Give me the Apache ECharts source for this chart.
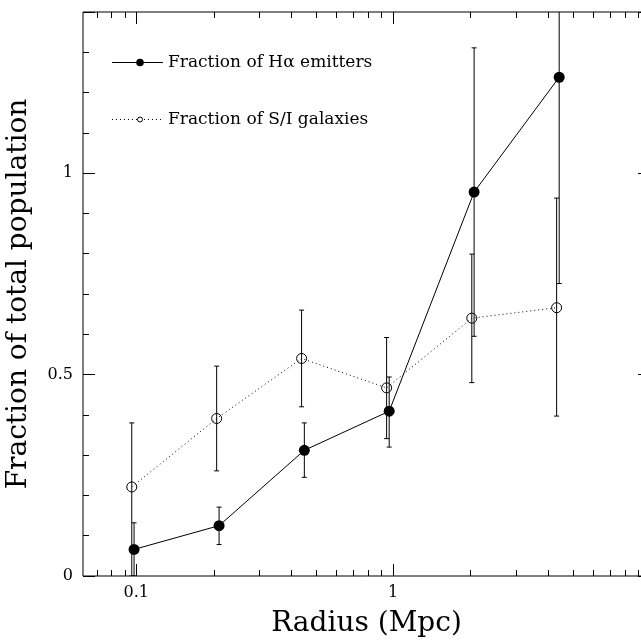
<!DOCTYPE html>
<html>
<head>
<meta charset="utf-8">
<script src="https://cdn.jsdelivr.net/npm/echarts@6/dist/echarts.min.js"></script>
<style>
html,body{margin:0;padding:0;background:#fff;overflow:hidden;}
#chart{width:680px;height:642px;}
</style>
</head>
<body>
<div id="chart"></div>
<script>
// ---- data ----
const haRadius = [0.098, 0.210, 0.451, 0.965, 2.066, 4.43];
const haFraction = [0.066, 0.125, 0.312, 0.409, 0.953, 1.238];
const haLow = [0.0, 0.078, 0.245, 0.320, 0.595, 0.726];
const haHigh = [0.132, 0.171, 0.380, 0.494, 1.311, 1.75];

const siRadius = [0.096, 0.2055, 0.440, 0.943, 2.024, 4.33];
const siFraction = [0.221, 0.391, 0.540, 0.467, 0.640, 0.666];
const siLow = [0.0, 0.261, 0.420, 0.341, 0.480, 0.397];
const siHigh = [0.380, 0.521, 0.660, 0.592, 0.799, 0.938];

const xTickLabels = ['0.1', '1', '10'];
const xMajorTicks = [0.1, 1, 10];
const xMinorTicks = [0.07, 0.08, 0.09, 0.2, 0.3, 0.4, 0.5, 0.6, 0.7, 0.8, 0.9, 2, 3, 4, 5, 6, 7, 8, 9];
const yTickLabels = ['0', '0.5', '1'];

const X_MIN = 0.062, X_MAX = 10, Y_MIN = 0, Y_MAX = 1.4;
const FONT = 'DejaVu Serif';

const chart = echarts.init(document.getElementById('chart'), null, {renderer: 'canvas'});

function xLabel(v) {
  const l = Math.log10(v);
  if (Math.abs(l - Math.round(l)) > 1e-6) return '';
  const idx = Math.round(l) + 1;
  return xTickLabels[idx] || '';
}
function yLabel(v) {
  const s = String(Math.round(v * 10) / 10);
  return yTickLabels.indexOf(s) >= 0 ? s : '';
}

function errRender(params, api) {
  const x = api.value(0);
  const p1 = api.coord([x, api.value(1)]);
  const p2 = api.coord([x, api.value(2)]);
  const cw = 2.5;
  const st = {stroke: '#000', lineWidth: 1};
  return {
    type: 'group',
    children: [
      {type: 'line', shape: {x1: p1[0], y1: p1[1], x2: p2[0], y2: p2[1]}, style: st},
      {type: 'line', shape: {x1: p1[0] - cw, y1: p1[1], x2: p1[0] + cw, y2: p1[1]}, style: st},
      {type: 'line', shape: {x1: p2[0] - cw, y1: p2[1], x2: p2[0] + cw, y2: p2[1]}, style: st}
    ]
  };
}

function tickRender(params, api) {
  const x = api.value(0);
  const len = api.value(1);
  const b = api.coord([x, Y_MIN]);
  const t = api.coord([x, Y_MAX]);
  const px = Math.round(b[0]) + 0.5;
  const st = {stroke: '#000', lineWidth: 1};
  return {
    type: 'group',
    children: [
      {type: 'line', shape: {x1: px, y1: b[1], x2: px, y2: b[1] - len}, style: st},
      {type: 'line', shape: {x1: px, y1: t[1], x2: px, y2: t[1] + len}, style: st}
    ]
  };
}

const axisCommonX = {
  type: 'log', logBase: 10, min: X_MIN, max: X_MAX,
  axisLine: {show: false, onZero: false},
  axisTick: {show: false},
  splitLine: {show: false}
};
const axisCommonY = {
  type: 'value', min: Y_MIN, max: Y_MAX, interval: 0.5,
  axisLine: {show: false, onZero: false},
  axisTick: {show: true, inside: true, length: 12, lineStyle: {color: '#000', width: 1}},
  minorTick: {show: true, splitNumber: 5, length: 6, lineStyle: {color: '#000', width: 1}},
  splitLine: {show: false}, minorSplitLine: {show: false}
};

const option = {
  backgroundColor: '#fff',
  animation: false,
  grid: {left: 83, right: 30, top: 12, bottom: 66, containLabel: false, outerBoundsMode: 'none',
         show: true, borderColor: '#000', borderWidth: 1, backgroundColor: 'transparent'},
  xAxis: [
    Object.assign({}, axisCommonX, {
      position: 'bottom',
      axisLabel: {show: true, formatter: xLabel, color: '#000', fontFamily: FONT, fontSize: 16, margin: 9,
                  showMinLabel: false},
      name: 'Radius (Mpc)', nameLocation: 'middle', nameGap: 34,
      nameTextStyle: {color: '#000', fontFamily: FONT, fontSize: 28}
    }),
    Object.assign({}, axisCommonX, {position: 'top', axisLabel: {show: false}})
  ],
  yAxis: [
    Object.assign({}, axisCommonY, {
      position: 'left',
      axisLabel: {show: true, formatter: yLabel, color: '#000', fontFamily: FONT, fontSize: 16, margin: 10},
      name: 'Fraction of total population', nameLocation: 'middle', nameGap: 50,
      nameTextStyle: {color: '#000', fontFamily: FONT, fontSize: 28}
    }),
    Object.assign({}, axisCommonY, {position: 'right', axisLabel: {show: false}})
  ],
  graphic: [
    {type: 'line', shape: {x1: 112, y1: 62.5, x2: 163, y2: 62.5}, style: {stroke: '#000', lineWidth: 1}},
    {type: 'circle', shape: {cx: 140, cy: 62.5, r: 3.8}, style: {fill: '#000'}},
    {type: 'text', x: 168, y: 62.5, style: {text: 'Fraction of H\u03B1 emitters', font: '17px "DejaVu Serif"', fill: '#000', verticalAlign: 'middle'}},
    {type: 'line', shape: {x1: 112, y1: 119.5, x2: 163, y2: 119.5}, style: {stroke: '#000', lineWidth: 1, lineDash: [1, 3]}},
    {type: 'circle', shape: {cx: 140, cy: 119.5, r: 2.5}, style: {fill: '#fff', stroke: '#000', lineWidth: 1}},
    {type: 'text', x: 168, y: 119.5, style: {text: 'Fraction of S/I galaxies', font: '17px "DejaVu Serif"', fill: '#000', verticalAlign: 'middle'}}
  ],
  series: [
    {
      type: 'custom', name: 'xTicks', xAxisIndex: 0, yAxisIndex: 0,
      renderItem: tickRender, clip: false, silent: true,
      data: xMajorTicks.map(v => [v, 12]).concat(xMinorTicks.map(v => [v, 6]))
    },
    {
      type: 'custom', name: 'haErr', xAxisIndex: 0, yAxisIndex: 0,
      renderItem: errRender, clip: true, silent: true, z: 3,
      encode: {x: 0, y: [1, 2]},
      data: haRadius.map((x, i) => [x, haLow[i], haHigh[i]])
    },
    {
      type: 'custom', name: 'siErr', xAxisIndex: 0, yAxisIndex: 0,
      renderItem: errRender, clip: true, silent: true, z: 3,
      encode: {x: 0, y: [1, 2]},
      data: siRadius.map((x, i) => [x, siLow[i], siHigh[i]])
    },
    {
      type: 'line', name: 'Fraction of H\u03B1 emitters', xAxisIndex: 0, yAxisIndex: 0, z: 5,
      data: haRadius.map((x, i) => [x, haFraction[i]]),
      symbol: 'circle', symbolSize: 11, showSymbol: true,
      itemStyle: {color: '#000'},
      lineStyle: {color: '#000', width: 1, type: 'solid'}
    },
    {
      type: 'line', name: 'Fraction of S/I galaxies', xAxisIndex: 0, yAxisIndex: 0, z: 4,
      data: siRadius.map((x, i) => [x, siFraction[i]]),
      symbol: 'circle', symbolSize: 10, showSymbol: true,
      itemStyle: {color: 'rgba(0,0,0,0)', borderColor: '#000', borderWidth: 1},
      lineStyle: {color: '#000', width: 1, type: [1, 3]}
    }
  ]
};
chart.setOption(option);
</script>
</body>
</html>
